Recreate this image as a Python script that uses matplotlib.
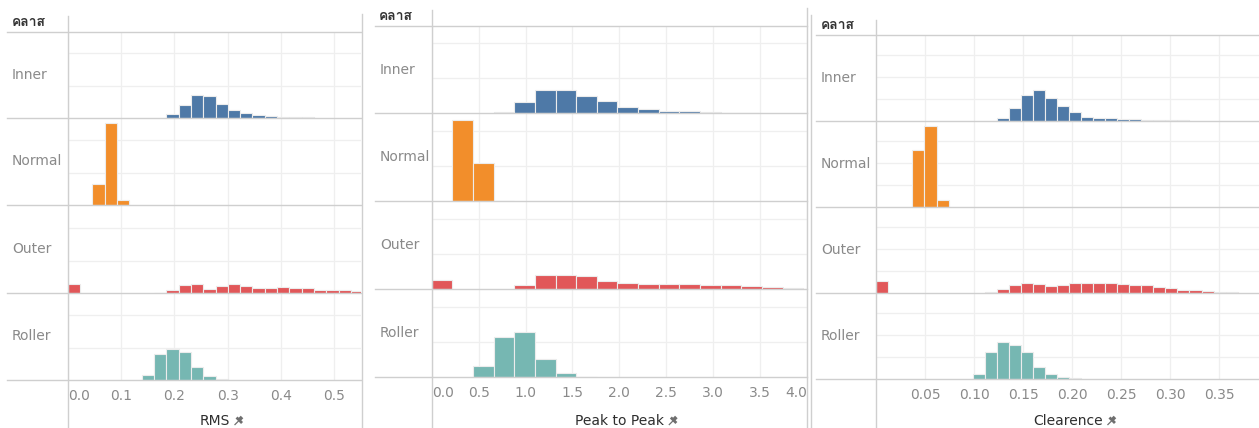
import numpy as np
import matplotlib
matplotlib.use('Agg')
import matplotlib.pyplot as plt
from matplotlib.lines import Line2D
from matplotlib import font_manager
from matplotlib.ft2font import FT2Font

W, H = 1259, 428

classes = ['Inner', 'Normal', 'Outer', 'Roller']
colors = ['#4e79a7', '#f28e2b', '#e15759', '#76b7b2']

# RMS histogram (bin width 0.0231), counts per bin from first_bin on
rms_bin = 0.0231
rms_first_bin = [8, 2, 0, 6]
rms_counts = [
    [11, 39, 72, 67, 44, 26, 15, 9, 5, 3, 3, 3],
    [66, 255, 14],
    [27, 0, 0, 0, 0, 0, 0, 1, 10, 24, 29, 13, 22, 27, 22, 14, 17, 19, 14, 14, 10, 10, 8, 6],
    [17, 80, 97, 88, 41, 11, 4],
]
rms_ticks = [0.0, 0.1, 0.2, 0.3, 0.4, 0.5]
rms_labels = ['0.0', '0.1', '0.2', '0.3', '0.4', '0.5']

# Peak to Peak histogram (bin width 0.22)
p2p_bin = 0.22
p2p_first_bin = [3, 1, 0, 2]
p2p_counts = [
    [5, 32, 67, 67, 49, 35, 19, 11, 7, 7, 5, 2, 2],
    [233, 108, 2],
    [26, 0, 0, 0, 11, 41, 41, 37, 23, 19, 14, 14, 14, 11, 11, 9, 7, 5],
    [32, 115, 130, 52, 12, 2],
]
p2p_ticks = [0.0, 0.5, 1.0, 1.5, 2.0, 2.5, 3.0, 3.5, 4.0]
p2p_labels = ['0.0', '0.5', '1.0', '1.5', '2.0', '2.5', '3.0', '3.5', '4.0']

# Clearence histogram (bin width 0.0123)
clr_bin = 0.01229
clr_first_bin = [10, 3, 0, 8]
clr_counts = [
    [14, 59, 120, 139, 106, 70, 39, 20, 14, 14, 8, 8, 6, 6, 6, 6],
    [258, 368, 32],
    [52, 0, 0, 0, 0, 0, 0, 0, 0, 3, 17, 35, 42, 38, 30, 35, 42, 42, 42, 42, 38, 35, 35, 24, 21, 12, 12, 9, 5, 5],
    [21, 124, 167, 152, 121, 55, 23, 8, 3],
]
clr_ticks = [0.05, 0.10, 0.15, 0.20, 0.25, 0.30, 0.35]
clr_labels = ['0.05', '0.10', '0.15', '0.20', '0.25', '0.30', '0.35']


def find_thai_font():
    # เลือกฟอนต์ที่มีตัวอักษรไทย ถ้ามี
    for f in font_manager.fontManager.ttflist:
        try:
            if 0x0E04 in FT2Font(f.fname).get_charmap():
                return f.name
        except Exception:
            pass
    return 'DejaVu Sans'


THAI = find_thai_font()
LINE = '#cfcfcf'
GRID = '#efefef'
LABEL = '#8a8a8a'

titles = []


def hline(fig, x0, x1, y, color=LINE, lw=1.0):
    fig.add_artist(Line2D([x0 / W, x1 / W], [1 - y / H, 1 - y / H], color=color, lw=lw))


def vline(fig, x, y0, y1, color=LINE, lw=1.0):
    fig.add_artist(Line2D([x / W, x / W], [1 - y0 / H, 1 - y1 / H], color=color, lw=lw))


def draw_pin(fig, x, y):
    # маленькая булавка: x, y в пикселях (y снизу), остриё внизу слева
    c = '#6f6f6f'
    def seg(pts, lw):
        xs = [(x + p[0]) / W for p in pts]
        ys = [(y + p[1]) / H for p in pts]
        fig.add_artist(Line2D(xs, ys, color=c, lw=lw, solid_capstyle='butt'))
    seg([(0, -4), (4.5, 0.5)], 0.9)
    seg([(2, 3.5), (7.5, -2)], 2.0)
    seg([(4.5, 1), (7.5, 4)], 2.6)


def draw_panel(fig, lay, counts, first_bin, bin_w, xmax, grid_x, ticks, labels, ymax, yticks, title,
               first_left=False, last_right=False):
    tops = [lay['header_y']] + lay['baselines'][:-1]
    x0, x1 = lay['ax_x0'], lay['ax_x1']
    ax = None
    for i, cls in enumerate(classes):
        top, bottom = tops[i], lay['baselines'][i]
        ax = fig.add_axes([x0 / W, 1 - bottom / H, (x1 - x0) / W, (bottom - top) / H])
        ax.patch.set_alpha(0)
        c = np.array(counts[i], dtype=float)
        edges = (first_bin[i] + np.arange(len(c))) * bin_w
        m = c > 0
        ax.bar(edges[m], c[m], width=bin_w, align='edge', color=colors[i],
               edgecolor='#ececec', linewidth=0.8, zorder=3)
        ax.set_xlim(0, xmax)
        ax.set_ylim(0, ymax * (bottom - top) / 86.0)
        ax.set_xticks(grid_x)
        ax.set_yticks(yticks)
        ax.grid(True, color=GRID, linewidth=0.9, zorder=0)
        for s in ax.spines.values():
            s.set_visible(False)
        ax.tick_params(length=0, labelleft=False, labelbottom=False)
        fig.text(lay['label_x'] / W, 1 - (top + bottom) / 2 / H, cls, ha='left', va='center',
                 fontsize=10, color=LABEL)
        hline(fig, lay['line_x0'], x1, bottom)

    # подписи оси X на нижней строке
    ax.set_xticks(ticks)
    ax.tick_params(labelbottom=True, labelsize=10, labelcolor=LABEL, pad=6.5)
    tl = ax.set_xticklabels(labels)
    if first_left:
        tl[0].set_ha('left')
    if last_right:
        tl[-1].set_ha('right')

    hline(fig, lay['line_x0'], x1, lay['header_y'])
    for vx, vy0, vy1 in lay['vlines']:
        vline(fig, vx, vy0, vy1)
    fig.text(lay['head_x'] / W, 1 - lay['head_y'] / H, 'คลาส', ha='left', va='center',
             fontsize=10, fontweight='bold', color='#333333', family=[THAI, 'DejaVu Sans'])

    t = fig.text((x0 + x1) / 2 / W, 1 - 421 / H, title, ha='center', va='center',
                 fontsize=10, color='#2e2e2e')
    titles.append(t)


fig = plt.figure(figsize=(W / 100, H / 100), dpi=100)

lay_rms = dict(label_x=12, line_x0=7, ax_x0=67.7, ax_x1=361, header_y=32,
               baselines=[118, 205, 293, 380], head_x=12, head_y=22.5,
               vlines=[(67.7, 16, 428), (361.5, 14, 428)])
lay_p2p = dict(label_x=380, line_x0=375, ax_x0=431.7, ax_x1=807, header_y=26,
               baselines=[113.3, 201.3, 289.3, 377.3], head_x=379, head_y=17,
               vlines=[(431.7, 10, 428), (807.3, 8, 428)])
lay_clr = dict(label_x=821, line_x0=816, ax_x0=876.3, ax_x1=1259, header_y=35,
               baselines=[121, 206.7, 292.7, 379], head_x=821, head_y=26,
               vlines=[(876.3, 20, 428), (810.7, 15, 428)])

draw_panel(fig, lay_rms, rms_counts, rms_first_bin, rms_bin, 0.55,
           rms_ticks, rms_ticks, rms_labels, 266, [100, 200], 'RMS', first_left=True)
draw_panel(fig, lay_p2p, p2p_counts, p2p_first_bin, p2p_bin, 4.0,
           p2p_ticks, p2p_ticks, p2p_labels, 245, [100, 200], 'Peak to Peak',
           first_left=True, last_right=True)
draw_panel(fig, lay_clr, clr_counts, clr_first_bin, clr_bin, 0.3905,
           clr_ticks, clr_ticks, clr_labels, 390, [100, 200, 300], 'Clearence')

# булавки справа от подписей осей
fig.canvas.draw()
renderer = fig.canvas.get_renderer()
for t in titles:
    bb = t.get_window_extent(renderer)
    draw_pin(fig, bb.x1 + 5, (bb.y0 + bb.y1) / 2)

fig.savefig('out.png', dpi=100)
